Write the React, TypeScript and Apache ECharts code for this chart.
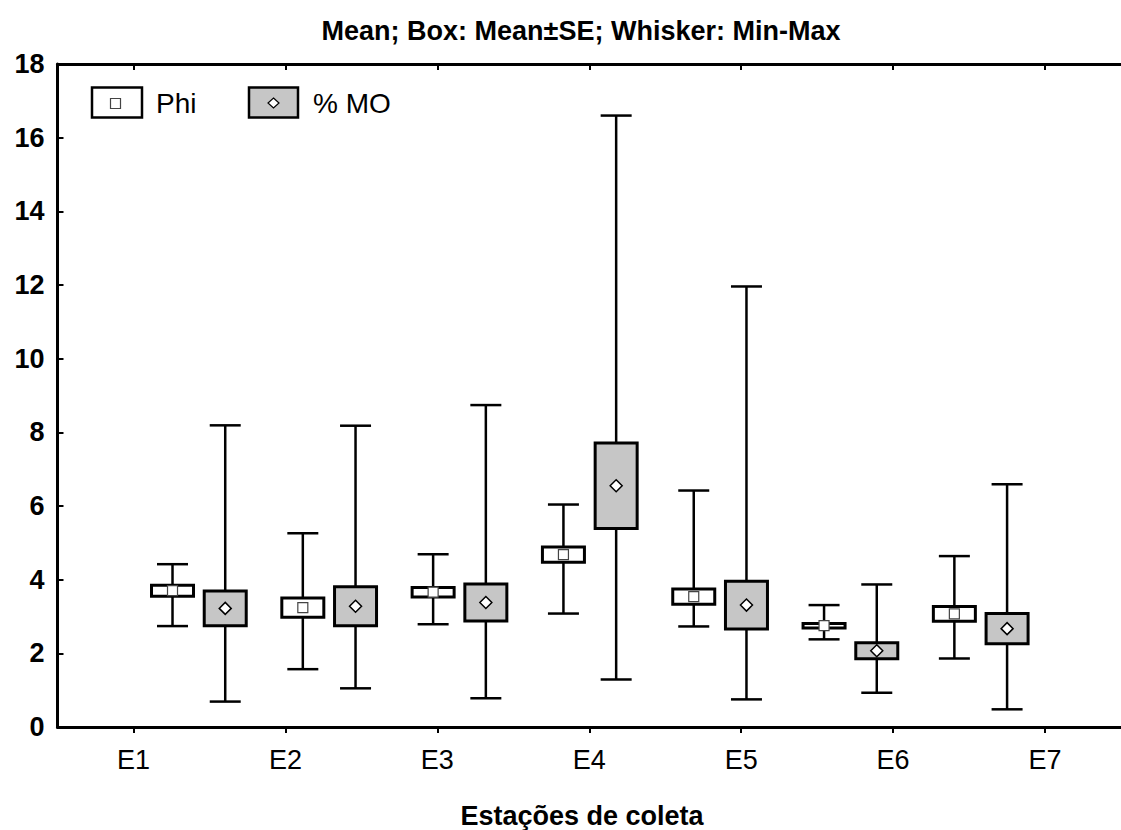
import React, { useEffect, useRef } from "react";
import * as echarts from "echarts";

const categories = ["E1", "E2", "E3", "E4", "E5", "E6", "E7"];
const yTicks = [0, 2, 4, 6, 8, 10, 12, 14, 16, 18];

const phiMean = [3.7, 3.24, 3.66, 4.68, 3.54, 2.75, 3.07];
const phiSE = [0.15, 0.26, 0.13, 0.21, 0.21, 0.06, 0.2];
const phiMin = [2.74, 1.57, 2.79, 3.08, 2.73, 2.38, 1.86];
const phiMax = [4.42, 5.26, 4.69, 6.04, 6.42, 3.31, 4.64];

const moMean = [3.22, 3.28, 3.38, 6.55, 3.31, 2.07, 2.67];
const moSE = [0.47, 0.53, 0.5, 1.16, 0.65, 0.22, 0.41];
const moMin = [0.69, 1.05, 0.78, 1.29, 0.75, 0.93, 0.48];
const moMax = [8.19, 8.18, 8.74, 16.6, 11.96, 3.87, 6.59];

const FONT = "'Liberation Sans', Arial, sans-serif";
const GRAY = "#c6c6c6";
// layout: box-group placement in category units (hidden value axis from -0.5 to 6.5)
const GROUP_START = 0.257;
const GROUP_STEP = 0.8577;
const PAIR_OFFSET = 0.347;
const BOX_W = 42;
const CAP_W = 31;

function buildRows(mean: number[], se: number[], mn: number[], mx: number[], off: number) {
  return mean.map((m, i) => [GROUP_START + GROUP_STEP * i + off, mn[i], m - se[i], m, m + se[i], mx[i]]);
}

function makeRender(kind: "phi" | "mo") {
  return (params: any, api: any) => {
    const x = api.value(0);
    const pMin = api.coord([x, api.value(1)]);
    const pLo = api.coord([x, api.value(2)]);
    const pMean = api.coord([x, api.value(3)]);
    const pHi = api.coord([x, api.value(4)]);
    const pMax = api.coord([x, api.value(5)]);
    const cx = pMin[0];
    const children: any[] = [
      { type: "line", shape: { x1: cx, y1: pMin[1], x2: cx, y2: pMax[1] }, style: { stroke: "#000", lineWidth: 2.5 } },
      { type: "line", shape: { x1: cx - CAP_W / 2, y1: pMin[1], x2: cx + CAP_W / 2, y2: pMin[1] }, style: { stroke: "#000", lineWidth: 2.5 } },
      { type: "line", shape: { x1: cx - CAP_W / 2, y1: pMax[1], x2: cx + CAP_W / 2, y2: pMax[1] }, style: { stroke: "#000", lineWidth: 2.5 } },
      {
        type: "rect",
        shape: { x: cx - BOX_W / 2, y: pHi[1], width: BOX_W, height: pLo[1] - pHi[1] },
        style: { fill: kind === "phi" ? "#fff" : GRAY, stroke: "#000", lineWidth: 3 },
      },
    ];
    if (kind === "phi") {
      children.push({
        type: "rect",
        shape: { x: cx - 5, y: pMean[1] - 5, width: 10, height: 10 },
        style: { fill: "#fff", stroke: "#444", lineWidth: 1.2 },
      });
    } else {
      const r = 6;
      children.push({
        type: "polygon",
        shape: { points: [[cx, pMean[1] - r], [cx + r, pMean[1]], [cx, pMean[1] + r], [cx - r, pMean[1]]] },
        style: { fill: "#fff", stroke: "#000", lineWidth: 1.5 },
      });
    }
    return { type: "group", children };
  };
}

export default function App() {
  const ref = useRef<HTMLDivElement>(null);
  useEffect(() => {
    if (!ref.current) return;
    const chart = echarts.init(ref.current, null, { renderer: "svg" });
    const axisLine = { show: true, onZero: false, lineStyle: { color: "#000", width: 3 } };
    chart.setOption({
      animation: false,
      backgroundColor: "#fff",
      grid: { left: 57.5, right: -9.8, top: 64, bottom: 103, containLabel: false },
      xAxis: [
        {
          type: "category",
          data: categories,
          position: "bottom",
          boundaryGap: true,
          axisLine,
          axisTick: { show: true, alignWithLabel: true, length: 6, lineStyle: { color: "#000", width: 2 } },
          axisLabel: { color: "#000", fontSize: 27, fontFamily: FONT, margin: 19 },
          splitLine: { show: false },
        },
        {
          type: "category",
          data: categories,
          position: "top",
          boundaryGap: true,
          axisLine,
          axisTick: { show: true, alignWithLabel: true, inside: true, length: 6, lineStyle: { color: "#000", width: 2 } },
          axisLabel: { show: false },
          splitLine: { show: false },
        },
        { type: "value", min: -0.5, max: 6.5, show: false },
      ],
      yAxis: {
        type: "value",
        min: yTicks[0],
        max: yTicks[yTicks.length - 1],
        interval: 2,
        axisLine,
        axisTick: { show: true, inside: true, length: 6, lineStyle: { color: "#000", width: 2 } },
        axisLabel: { color: "#000", fontSize: 27, fontWeight: "bold", fontFamily: FONT, margin: 13 },
        splitLine: { show: false },
      },
      series: [
        {
          name: "Phi",
          type: "custom",
          xAxisIndex: 2,
          yAxisIndex: 0,
          renderItem: makeRender("phi"),
          data: buildRows(phiMean, phiSE, phiMin, phiMax, 0),
          encode: { x: 0, y: [1, 2, 3, 4, 5] },
          clip: false,
        },
        {
          name: "% MO",
          type: "custom",
          xAxisIndex: 2,
          yAxisIndex: 0,
          renderItem: makeRender("mo"),
          data: buildRows(moMean, moSE, moMin, moMax, PAIR_OFFSET),
          encode: { x: 0, y: [1, 2, 3, 4, 5] },
          clip: false,
        },
      ],
      graphic: [
        {
          type: "text",
          x: 581,
          y: 31,
          style: { text: "Mean; Box: Mean±SE; Whisker: Min-Max", font: `bold 27px ${FONT}`, fill: "#000", textAlign: "center", textVerticalAlign: "middle" },
        },
        {
          type: "text",
          x: 582,
          y: 816,
          style: { text: "Estações de coleta", font: `bold 27px ${FONT}`, fill: "#000", textAlign: "center", textVerticalAlign: "middle" },
        },
        { type: "rect", shape: { x: 92, y: 87.5, width: 50, height: 30 }, style: { fill: "#fff", stroke: "#000", lineWidth: 2.5 } },
        { type: "rect", shape: { x: 110.5, y: 98.5, width: 10, height: 10 }, style: { fill: "#fff", stroke: "#444", lineWidth: 1.2 } },
        { type: "text", x: 156, y: 103, style: { text: "Phi", font: `28px ${FONT}`, fill: "#000", textAlign: "left", textVerticalAlign: "middle" } },
        { type: "rect", shape: { x: 249, y: 87.5, width: 49, height: 30 }, style: { fill: GRAY, stroke: "#000", lineWidth: 2.5 } },
        {
          type: "polygon",
          shape: { points: [[273.5, 98], [279, 103], [273.5, 108], [268, 103]] },
          style: { fill: "#fff", stroke: "#000", lineWidth: 1.2 },
        },
        { type: "text", x: 313, y: 103, style: { text: "% MO", font: `28px ${FONT}`, fill: "#000", textAlign: "left", textVerticalAlign: "middle" } },
      ],
    });
    return () => chart.dispose();
  }, []);
  return (
    <div style={{ position: "fixed", left: 0, top: 0, width: 1121, height: 830, overflow: "hidden", background: "#fff" }}>
      <div ref={ref} style={{ width: 1121, height: 830 }} />
    </div>
  );
}
